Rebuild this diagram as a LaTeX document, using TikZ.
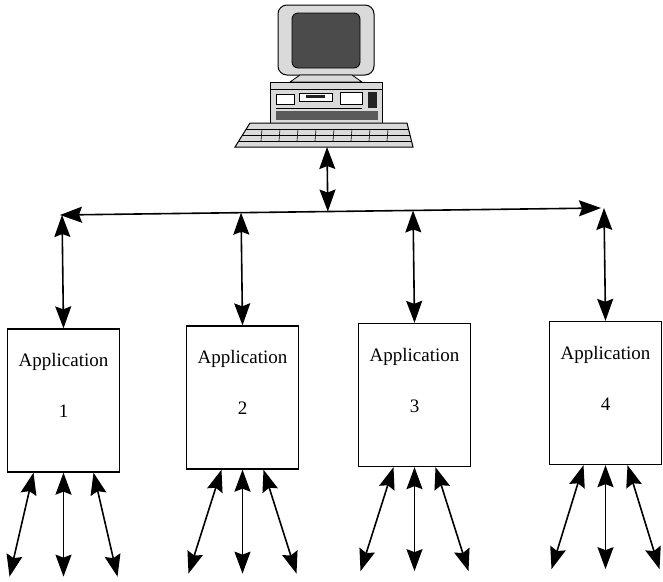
\documentclass[tikz,border=0pt]{standalone}
\usepackage{fontspec}
\setmainfont{Liberation Serif}
\usetikzlibrary{arrows.meta,positioning,calc}
\definecolor{pcshell}{RGB}{218,218,218}
\definecolor{pcscreen}{RGB}{75,75,75}
\definecolor{pcdark}{RGB}{35,35,35}

\tikzset{
  bigtip/.tip={Stealth[length=22pt,width=16pt,inset=3pt]},
  appbox/.style={draw, line width=1.3pt, minimum width=112pt, minimum height=143pt, inner sep=0pt},
  apptext/.style={font=\fontsize{19}{22}\selectfont, inner sep=0pt},
  link/.style={bigtip-bigtip, line width=1.6pt},
}

\begin{document}
\begin{tikzpicture}[x=1pt, y=-1pt]
\useasboundingbox (0,0) rectangle (663,581);

% === Computer ===
% monitor
\draw[line width=1pt, fill=pcshell, rounded corners=9pt] (278,5) rectangle (374,75);
\draw[line width=0.8pt, fill=pcscreen, rounded corners=6pt] (292,13) rectangle (360,68);
% stand
\draw[line width=0.8pt, fill=pcshell] (300,75) -- (352,75) -- (362,82) -- (290,82) -- cycle;
% system unit
\draw[line width=1pt, fill=pcshell] (270,82) rectangle (382,123);
\draw (270,89) -- (382,89);
\draw[fill=white] (276,94) rectangle (294,104);
\draw[fill=white] (299,93) rectangle (332,101);
\fill[pcdark] (306,95) rectangle (325,98);
\draw[fill=white] (340,92) rectangle (362,104);
\fill[pcdark] (368,92) rectangle (377,108);
\draw (276,108) -- (362,108);
\fill[pcdark!75] (276,111) rectangle (378,120);
% keyboard
\draw[line width=1pt, fill=pcshell] (250,123) -- (407,123) -- (413,147) -- (235,147) -- cycle;
\foreach \t in {0.25,0.5,0.75}
  \draw[line width=0.6pt] ($(250,123)!\t!(235,147)$) -- ($(407,123)!\t!(413,147)$);
\foreach \x in {262,280,...,400}
  \draw[line width=0.6pt] (\x,129) -- (\x-1,141);
\coordinate (pc) at (327,147);

% === Bus ===
\coordinate (busL) at (60,215);
\coordinate (busR) at (601,208);
\coordinate (busC) at ($(busL)!(pc)!(busR)$);
\draw[link] (busL) -- (busR);
\draw[link] (pc) -- (busC);

% === Applications ===
\foreach \i/\x/\y/\s in {1/63.5/400.5/30, 2/242.5/397.5/21, 3/414.5/395/21, 4/605.5/393/22} {
  \node[appbox] (app\i) at (\x,\y) {};
  \node[apptext] (name\i) at ([yshift=-34pt]app\i.north) {Application};
  \node[apptext] (num\i) at ([yshift=-83pt]app\i.north) {\i};
  % tap on the bus
  \coordinate (tap\i) at ($(busL)!(app\i.north)!(busR)$);
  \draw[link] (tap\i) -- (app\i.north);
  % outputs
  \foreach \d/\k in {-1/a, 0/b, 1/c} {
    \coordinate (in\i\k) at ([xshift={\d*\s}]app\i.south);
    \coordinate (out\i\k) at ([xshift={\d*54}, yshift=-104pt]app\i.south);
    \draw[link] (in\i\k) -- (out\i\k);
  }
}

\end{tikzpicture}
\end{document}
